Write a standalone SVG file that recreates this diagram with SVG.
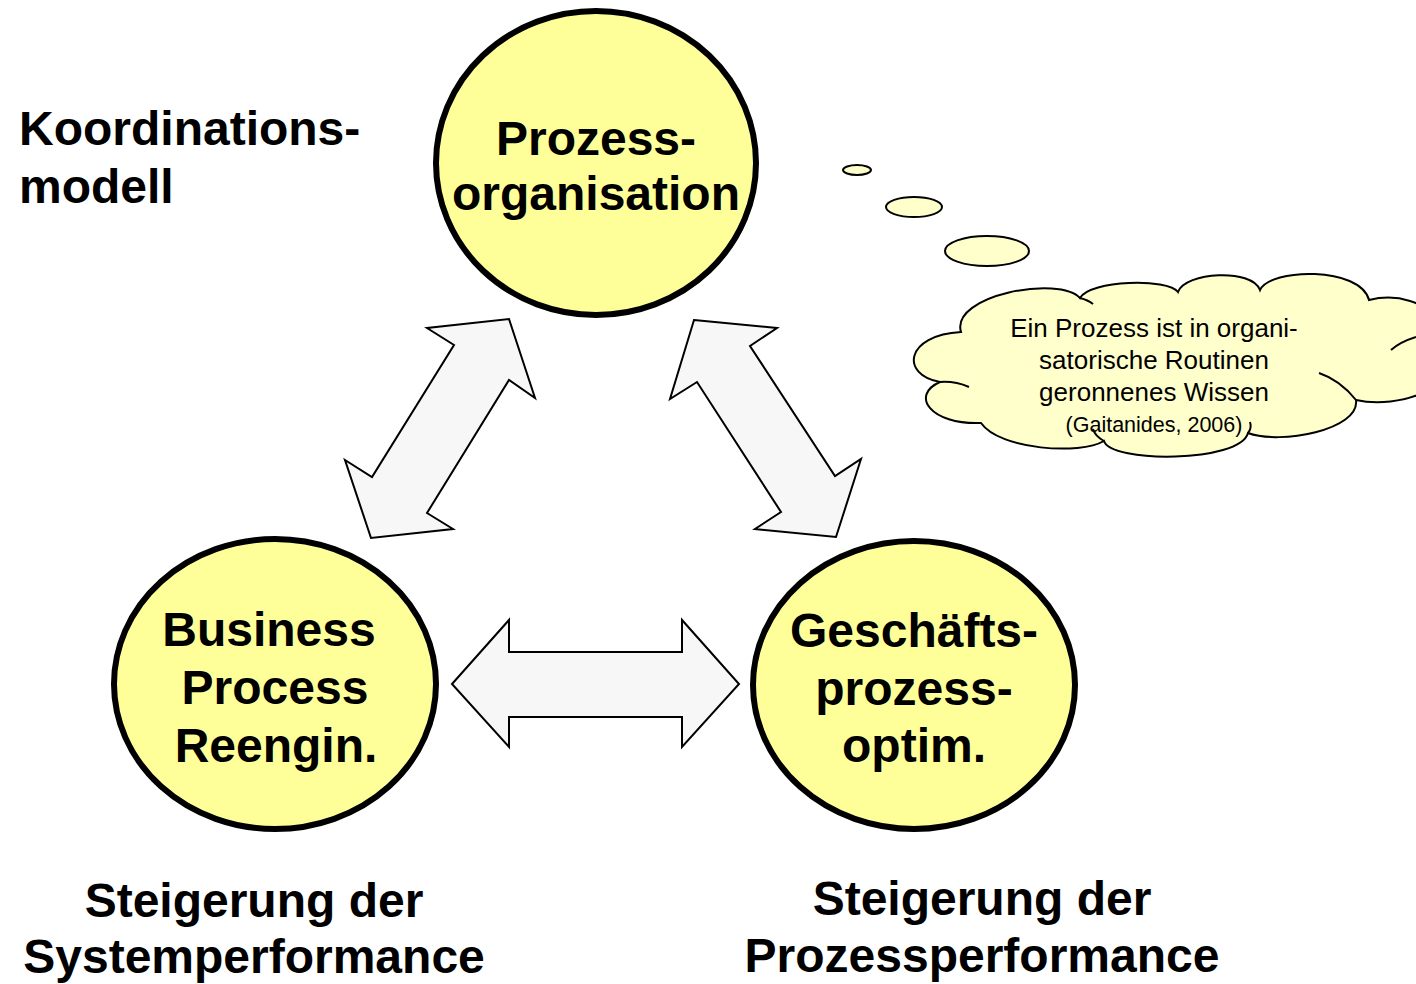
<svg xmlns="http://www.w3.org/2000/svg" width="1416" height="984" viewBox="0 0 1416 984">
<style>
  .bold { font-family: "Liberation Sans", Arial, sans-serif; font-weight: bold; font-size: 48px; fill: #000; }
  .mid { text-anchor: middle; }
  .node { fill: #FFFF99; stroke: #000; stroke-width: 6; }
  .arrow { fill: #F7F7F7; stroke: #000; stroke-width: 2; stroke-linejoin: miter; }
  .cloud { fill: #FFFFCC; stroke: #000; stroke-width: 2; }
  .inner { fill: none; stroke: #000; stroke-width: 2; }
  .ctext { font-family: "Liberation Sans", Arial, sans-serif; font-size: 26px; fill: #000; text-anchor: middle; }
</style>
<rect width="1416" height="984" fill="#FFFFFF"/>

<g id="title">
  <text class="bold" x="19" y="145">Koordinations-</text>
  <text class="bold" x="19" y="203">modell</text>
</g>

<g id="connectors">
  <path class="arrow" d="M509,319 L535,398 L509,380 L427,513 L453,529 L371,538 L345,460 L372,477 L454,345 L427,328 Z"/>
  <path class="arrow" d="M694,320 L777,328 L750,346 L835,476 L861,459 L836,537 L755,529 L781,512 L697,382 L670,399 Z"/>
  <path class="arrow" d="M452,684 L509,620 L509,652 L682,652 L682,620 L739,684 L682,747 L682,717 L509,717 L509,747 Z"/>
</g>

<g id="node-prozessorganisation">
  <ellipse class="node" cx="596" cy="163" rx="160" ry="152"/>
  <text class="bold mid" x="596" y="155">Prozess-</text>
  <text class="bold mid" x="596" y="210">organisation</text>
</g>

<g id="node-bpr">
  <ellipse class="node" cx="275" cy="684" rx="161" ry="145"/>
  <text class="bold mid" x="269" y="646">Business</text>
  <text class="bold mid" x="275" y="704">Process</text>
  <text class="bold mid" x="276" y="762">Reengin.</text>
</g>

<g id="node-gpo">
  <ellipse class="node" cx="914" cy="685" rx="161" ry="144"/>
  <text class="bold mid" x="914" y="647">Geschäfts-</text>
  <text class="bold mid" x="914" y="705">prozess-</text>
  <text class="bold mid" x="914" y="762">optim.</text>
</g>

<g id="thought-cloud">
  <ellipse class="cloud" cx="857" cy="170" rx="14" ry="5"/>
  <ellipse class="cloud" cx="914" cy="207" rx="28" ry="10"/>
  <ellipse class="cloud" cx="987" cy="251" rx="42" ry="15"/>
  <path class="cloud" d="M961,332 C950,295 1060,275 1080,298 C1090,280 1168,278 1178,292 C1185,272 1252,268 1260,290 C1270,268 1360,266 1369,300 C1430,285 1470,345 1440,360 C1460,385 1400,410 1356,400 C1360,430 1280,445 1248,433 C1240,463 1110,463 1104,441 C1080,455 1000,450 981,423 C930,425 910,395 940,382 C900,375 905,335 961,332 Z"/>
  <path class="inner" d="M940,382 Q955,381 969,387"/>
  <path class="inner" d="M1104,441 Q1095,436 1093,429"/>
  <path class="inner" d="M1248,433 Q1252,428 1250,422"/>
  <path class="inner" d="M1356,400 Q1340,380 1319,373"/>
  <path class="inner" d="M1416,337 Q1400,342 1391,350"/>
  <path class="inner" d="M1080,298 Q1088,300 1093,304"/>
  <text class="ctext" x="1154" y="337">Ein Prozess ist in organi-</text>
  <text class="ctext" x="1154" y="369">satorische Routinen</text>
  <text class="ctext" x="1154" y="401">geronnenes Wissen</text>
  <text class="ctext" x="1154" y="432" style="font-size:21.5px">(Gaitanides, 2006)</text>
</g>

<g id="labels">
  <text class="bold mid" x="254" y="917">Steigerung der</text>
  <text class="bold mid" x="254" y="973">Systemperformance</text>
  <text class="bold mid" x="982" y="915">Steigerung der</text>
  <text class="bold mid" x="982" y="972">Prozessperformance</text>
</g>
</svg>
